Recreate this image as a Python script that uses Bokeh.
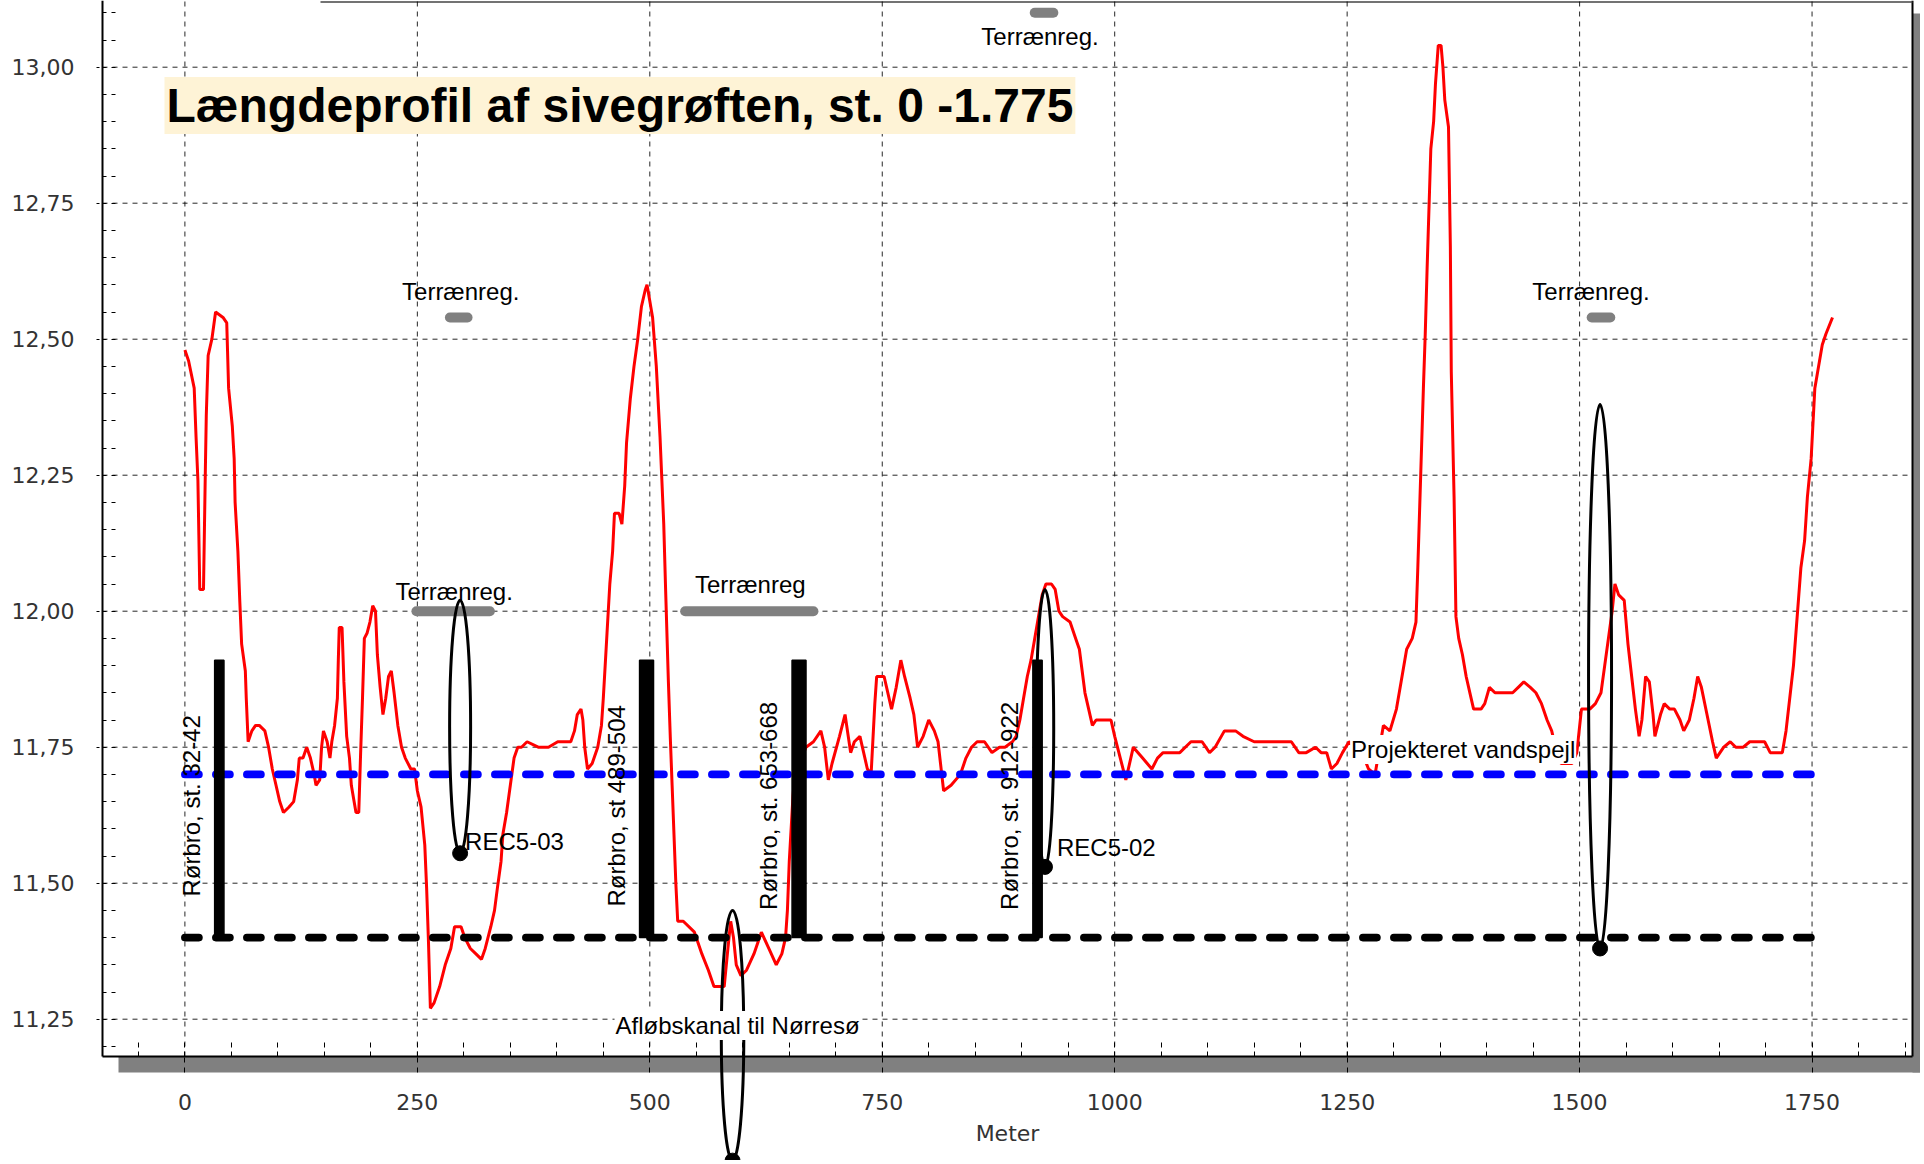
import math
from bokeh.plotting import figure
from bokeh.models import Range1d, FixedTicker, CustomJSTickFormatter, Label
from bokeh.embed import file_html
from bokeh.resources import INLINE

# ---------------- data ----------------
station = [0, 4, 10, 12, 14, 15, 16, 20, 21, 22, 23, 25, 29, 33, 41, 45, 47, 51, 53, 54, 57, 59, 61, 65, 66, 68,
           72, 76, 80, 86, 90, 94, 98, 102, 106, 112, 117, 121, 123, 127, 131, 135, 139, 141, 145, 147, 149, 153,
           156, 158, 161, 164, 165, 166, 169, 171, 174, 177, 179, 181, 184, 187, 189, 191, 193, 196, 199, 202, 205,
           207, 210, 213, 216, 219, 222, 225, 229, 233, 237, 243, 247, 250, 254, 258, 260, 262, 264, 268, 274, 280,
           286, 290, 294, 297, 301, 307, 313, 319, 323, 329, 333, 336, 340, 342, 346, 350, 354, 358, 362, 368, 380,
           391, 401, 415, 419, 422, 426, 428, 430, 433, 438, 444, 448, 450, 452, 454, 457, 460, 462, 467, 470, 473,
           475, 479, 483, 487, 491, 495, 497, 500, 503, 507, 511, 513, 515, 517, 520, 522, 524, 526, 528, 530, 536,
           548, 556, 563, 569, 577, 580, 584, 587, 590, 593, 598, 604, 612, 620, 628, 636, 642, 646, 648, 650, 652,
           654, 656, 668, 676, 684, 688, 692, 696, 704, 710, 716, 720, 726, 730, 734, 738, 742, 744, 752, 760, 765,
           770, 774, 780, 784, 788, 794, 800, 806, 810, 814, 816, 824, 834, 840, 846, 852, 860, 868, 876, 882, 890,
           894, 898, 902, 906, 910, 914, 918, 922, 926, 932, 936, 940, 944, 952, 958, 962, 968, 972, 976, 980, 990,
           996, 1000, 1006, 1012, 1020, 1030, 1040, 1046, 1052, 1070, 1082, 1094, 1102, 1108, 1118, 1130, 1138,
           1150, 1166, 1180, 1190, 1198, 1206, 1216, 1222, 1228, 1233, 1239, 1245, 1252, 1259, 1266, 1273, 1280,
           1284, 1289, 1296, 1303, 1308, 1314, 1320, 1324, 1326, 1328, 1330, 1332, 1334, 1336, 1338, 1340, 1343,
           1345, 1348, 1351, 1353, 1355, 1359, 1361, 1362, 1365, 1367, 1370, 1374, 1378, 1382, 1386, 1394, 1398,
           1403, 1409, 1419, 1428, 1434, 1440, 1447, 1453, 1459, 1465, 1470, 1474, 1480, 1492, 1497, 1502, 1511,
           1517, 1523, 1527, 1531, 1535, 1538, 1542, 1548, 1552, 1556, 1560, 1564, 1567, 1571, 1575, 1579, 1581,
           1587, 1591, 1597, 1602, 1608, 1612, 1618, 1623, 1627, 1631, 1637, 1643, 1647, 1655, 1662, 1668, 1676,
           1683, 1691, 1699, 1705, 1711, 1718, 1722, 1726, 1730, 1734, 1738, 1742, 1745, 1749, 1753, 1757, 1761,
           1765, 1772]
elevation = [12.48, 12.46, 12.41, 12.32, 12.24, 12.14, 12.04, 12.04, 12.15, 12.26, 12.36, 12.47, 12.50, 12.55,
             12.54, 12.53, 12.41, 12.34, 12.28, 12.20, 12.11, 12.02, 11.94, 11.89, 11.84, 11.76, 11.78, 11.79,
             11.79, 11.78, 11.75, 11.71, 11.68, 11.65, 11.63, 11.64, 11.65, 11.69, 11.73, 11.73, 11.75, 11.73,
             11.70, 11.68, 11.69, 11.75, 11.78, 11.76, 11.73, 11.76, 11.79, 11.84, 11.91, 11.97, 11.97, 11.87,
             11.77, 11.73, 11.68, 11.66, 11.63, 11.63, 11.74, 11.84, 11.95, 11.96, 11.98, 12.01, 12.00, 11.92,
             11.86, 11.81, 11.84, 11.88, 11.89, 11.85, 11.79, 11.75, 11.73, 11.71, 11.71, 11.67, 11.64, 11.57,
             11.49, 11.39, 11.27, 11.28, 11.31, 11.35, 11.38, 11.42, 11.42, 11.42, 11.40, 11.38, 11.37, 11.36,
             11.38, 11.42, 11.45, 11.49, 11.54, 11.59, 11.63, 11.68, 11.73, 11.75, 11.75, 11.76, 11.75, 11.75,
             11.76, 11.76, 11.78, 11.81, 11.82, 11.80, 11.75, 11.71, 11.72, 11.75, 11.79, 11.84, 11.90, 11.96,
             12.05, 12.11, 12.18, 12.18, 12.16, 12.23, 12.31, 12.39, 12.45, 12.50, 12.56, 12.59, 12.60, 12.57,
             12.54, 12.45, 12.32, 12.24, 12.16, 12.04, 11.87, 11.77, 11.68, 11.59, 11.50, 11.43, 11.43, 11.41,
             11.37, 11.34, 11.31, 11.31, 11.31, 11.38, 11.43, 11.40, 11.35, 11.33, 11.34, 11.37, 11.41, 11.38,
             11.35, 11.37, 11.40, 11.45, 11.54, 11.60, 11.66, 11.70, 11.75, 11.76, 11.78, 11.75, 11.69, 11.72,
             11.77, 11.81, 11.74, 11.76, 11.77, 11.74, 11.71, 11.70, 11.83, 11.88, 11.88, 11.82, 11.86, 11.91,
             11.88, 11.84, 11.81, 11.75, 11.77, 11.80, 11.78, 11.76, 11.70, 11.67, 11.68, 11.70, 11.73, 11.75,
             11.76, 11.76, 11.74, 11.75, 11.75, 11.76, 11.77, 11.80, 11.84, 11.88, 11.91, 11.95, 11.99, 12.03,
             12.05, 12.05, 12.04, 12.00, 11.99, 11.98, 11.95, 11.93, 11.85, 11.82, 11.79, 11.80, 11.80, 11.80,
             11.77, 11.73, 11.69, 11.75, 11.73, 11.71, 11.73, 11.74, 11.74, 11.76, 11.76, 11.74, 11.75, 11.78,
             11.78, 11.77, 11.76, 11.76, 11.76, 11.76, 11.74, 11.74, 11.75, 11.74, 11.74, 11.71, 11.72, 11.74,
             11.76, 11.75, 11.74, 11.71, 11.70, 11.74, 11.79, 11.78, 11.82, 11.87, 11.93, 11.95, 11.98, 12.08,
             12.19, 12.30, 12.41, 12.51, 12.63, 12.74, 12.85, 12.90, 12.97, 13.04, 13.04, 13.00, 12.94, 12.89,
             12.67, 12.44, 12.21, 11.99, 11.95, 11.92, 11.88, 11.85, 11.82, 11.82, 11.83, 11.86, 11.85, 11.85,
             11.85, 11.86, 11.87, 11.86, 11.85, 11.83, 11.80, 11.78, 11.75, 11.72, 11.72, 11.74, 11.82, 11.82,
             11.83, 11.85, 11.90, 11.95, 12.00, 12.05, 12.03, 12.02, 11.94, 11.88, 11.82, 11.77, 11.80, 11.88,
             11.87, 11.81, 11.77, 11.81, 11.83, 11.82, 11.82, 11.80, 11.78, 11.80, 11.84, 11.88, 11.86, 11.81,
             11.76, 11.73, 11.75, 11.76, 11.75, 11.75, 11.76, 11.76, 11.76, 11.74, 11.74, 11.74, 11.78, 11.84,
             11.90, 11.99, 12.08, 12.13, 12.21, 12.28, 12.41, 12.45, 12.49, 12.51, 12.54]

design_x = [0, 1760]
vandspejl_level = 11.70
bund_level = 11.40

bridge_start = [32, 489, 653, 912]
bridge_end = [42, 504, 668, 922]
bridge_top = 11.91
bridge_labels = ["Rørbro, st. 32-42", "Rørbro, st 489-504", "Rørbro, st. 653-668", "Rørbro, st. 912-922"]

terr_start = [285, 249, 538, 914, 1513]
terr_end = [304, 328, 676, 934, 1533]
terr_level = [12.54, 12.00, 12.00, 13.10, 12.54]
terr_labels = ["Terrænreg.", "Terrænreg.", "Terrænreg", "Terrænreg.", "Terrænreg."]

callout_station = [296, 925, 589, 1522]
callout_top = [12.02, 12.04, 11.45, 12.38]
callout_bottom = [11.555, 11.53, 10.99, 11.38]

x_ticks = [0, 250, 500, 750, 1000, 1250, 1500, 1750]
x_minor_ticks = list(range(-50, 1851, 50))
y_ticks = [11.25, 11.50, 11.75, 12.00, 12.25, 12.50, 12.75, 13.00]
y_minor_ticks = [round(11.20 + 0.05 * i, 2) for i in range(39)]

title_text = "Længdeprofil af sivegrøften, st. 0 -1.775"
x_label = "Meter"

# ---------------- geometry ----------------
W, H = 1920, 1160
PX_PER_M = 0.9298      # pixels per metre
PX_PER_U = 544.0       # pixels per metre of elevation
X0_PAGE = 184.4        # pixel column of station 0
Y13_PAGE = 66.7        # pixel row of elevation 13.00


def fx(px):
    return (px - X0_PAGE) / PX_PER_M


def fy(py):
    return 13.0 - (py - Y13_PAGE) / PX_PER_U


def dx(px):
    return px / PX_PER_M


def dy(px):
    return px / PX_PER_U


X_START, X_END = fx(0), fx(W)
Y_START, Y_END = fy(H), fy(0)
FRAME_L, FRAME_R = fx(102), fx(1912)
FRAME_B, FRAME_T = fy(1056), Y_END

p = figure(width=W, height=H, output_backend="svg", toolbar_location=None,
           x_range=Range1d(X_START, X_END), y_range=Range1d(Y_START, Y_END),
           min_border=0, min_border_left=0, min_border_right=0, min_border_top=0, min_border_bottom=0,
           background_fill_color="white", border_fill_color="white", outline_line_color=None)
p.xgrid.visible = False
p.ygrid.visible = False

FONT_AX = "DejaVu Sans"
FONT_TX = "Liberation Sans"

xa = p.xaxis[0]
xa.fixed_location = FRAME_B
xa.bounds = (FRAME_L, FRAME_R)
xa.ticker = FixedTicker(ticks=x_ticks, minor_ticks=x_minor_ticks)
xa.axis_line_color = "black"
xa.axis_line_width = 2
xa.major_tick_in = 0
xa.major_tick_out = 16
xa.major_tick_line_dash = "5 5"
xa.major_tick_line_color = "black"
xa.minor_tick_in = 16
xa.minor_tick_out = 0
xa.minor_tick_line_dash = "5 4"
xa.minor_tick_line_color = "black"
xa.major_label_text_font = FONT_AX
xa.major_label_text_font_size = "22px"
xa.major_label_text_color = "#333333"
xa.major_label_standoff = 21
xa.axis_label = x_label
xa.axis_label_text_font = FONT_AX
xa.axis_label_text_font_size = "22px"
xa.axis_label_text_font_style = "normal"
xa.axis_label_text_color = "#333333"
xa.axis_label_standoff = 8

ya = p.yaxis[0]
ya.fixed_location = FRAME_L
ya.bounds = (FRAME_B, FRAME_T)
ya.ticker = FixedTicker(ticks=y_ticks, minor_ticks=y_minor_ticks)
ya.formatter = CustomJSTickFormatter(code="return tick.toFixed(2).replace('.', ',');")
ya.axis_line_color = "black"
ya.axis_line_width = 2
ya.major_tick_in = 0
ya.major_tick_out = 6
ya.major_tick_line_dash = "3 3"
ya.major_tick_line_color = "black"
ya.minor_tick_in = 13
ya.minor_tick_out = 0
ya.minor_tick_line_dash = "4 5"
ya.minor_tick_line_color = "black"
ya.major_label_text_font = FONT_AX
ya.major_label_text_font_size = "22px"
ya.major_label_text_color = "#333333"
ya.major_label_standoff = 22

# drop shadow and borders of the plot area
p.quad(left=fx(118), right=fx(1924), bottom=fy(1072), top=FRAME_B, fill_color="#808080", line_color=None)
p.quad(left=FRAME_R, right=fx(1924), bottom=fy(1072), top=fy(13), fill_color="#808080", line_color=None)
p.segment(x0=FRAME_R, y0=FRAME_B, x1=FRAME_R, y1=FRAME_T, line_color="black", line_width=2)
p.segment(x0=fx(320), y0=fy(1.5), x1=FRAME_R, y1=fy(1.5), line_color="#444444", line_width=1.5)

# grid lines
p.segment(x0=x_ticks, y0=FRAME_B, x1=x_ticks, y1=FRAME_T, line_color="black", line_alpha=0.85,
          line_width=1, line_dash="5 5")
p.segment(x0=FRAME_L, y0=y_ticks, x1=FRAME_R, y1=y_ticks, line_color="black", line_alpha=0.85,
          line_width=1, line_dash="5 5")

# terrain profile
p.line(station, elevation, line_color="#FF0000", line_width=3)

# design lines
p.line(design_x, [vandspejl_level] * len(design_x), line_color="#0000FF", line_width=7.7,
       line_dash="14 17", line_cap="round")
p.line(design_x, [bund_level] * len(design_x), line_color="black", line_width=7.7,
       line_dash="14 17", line_cap="round")

# pipe bridges
p.quad(left=bridge_start, right=bridge_end, bottom=bund_level, top=bridge_top,
       fill_color="black", line_color="black", line_width=1.5)

# terrain registration markers
p.segment(x0=terr_start, y0=terr_level, x1=terr_end, y1=terr_level,
          line_color="#808080", line_width=10, line_cap="round")

# callout loops with dots
loop_width_px = [21, 17.5, 22.5, 23]
loop_y = [(t + b) / 2 for t, b in zip(callout_top, callout_bottom)]
loop_h = [t - b for t, b in zip(callout_top, callout_bottom)]
p.ellipse(x=callout_station, y=loop_y, width=loop_width_px, height=loop_h,
          width_units="screen", height_units="data",
          fill_color=None, line_color="black", line_width=3)
p.scatter(x=callout_station, y=callout_bottom, size=15, fill_color="black", line_color="black")


# ---------------- texts ----------------
def add_label(x, y, text, **kw):
    opts = dict(text_font=FONT_TX, text_font_size="24px", text_color="black")
    opts.update(kw)
    p.add_layout(Label(x=x, y=y, text=text, **opts))


add_label(fx(164), fy(105), title_text, text_font_size="48px", text_font_style="bold",
          text_align="left", text_baseline="middle",
          background_fill_color="#FEF3D6", padding=2)

for s, lab in zip(bridge_start, bridge_labels):
    add_label(s - dx(10), (bund_level + bridge_top) / 2 - dy(7), lab, angle=math.pi / 2,
              text_align="center", text_baseline="bottom")

terr_label_dy_px = [26, 20, 27, -24, 26]
terr_label_dx_px = [2, 1, 1, -4, -10]
for s, e, lv, lab, oy, ox in zip(terr_start, terr_end, terr_level, terr_labels, terr_label_dy_px, terr_label_dx_px):
    add_label((s + e) / 2 + dx(ox), lv + dy(oy), lab, text_align="center", text_baseline="middle")

add_label(callout_station[0] + dx(5), callout_bottom[0] + dy(12), "REC5-03",
          text_align="left", text_baseline="middle")
add_label(callout_station[1] + dx(12), callout_bottom[1] + dy(19), "REC5-02",
          text_align="left", text_baseline="middle")
add_label(callout_station[2] + dx(5), fy(1025), "Afløbskanal til Nørresø",
          text_align="center", text_baseline="middle", background_fill_color="white", padding=1)
add_label(fx(1349.6), vandspejl_level + dy(25), "Projekteret vandspejl",
          text_align="left", text_baseline="middle", background_fill_color="white", padding=1)

open("out.html", "w").write(file_html(p, INLINE))
